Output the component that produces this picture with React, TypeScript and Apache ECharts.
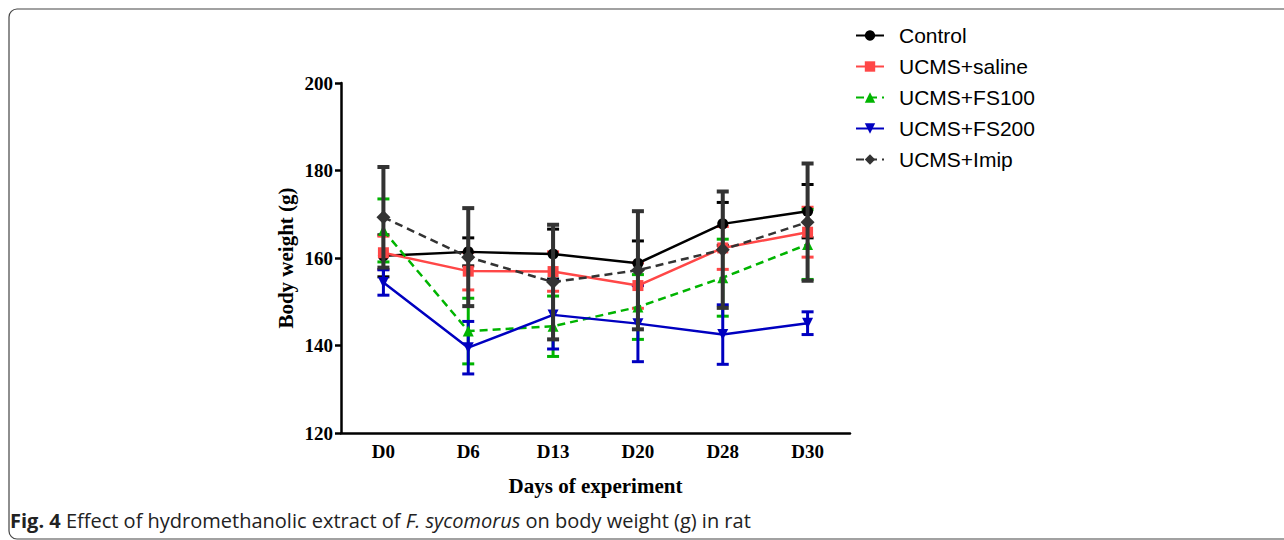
import React, { useEffect, useRef } from "react";
import * as echarts from "echarts";

const categories = ["D0", "D6", "D13", "D20", "D28", "D30"];
const seriesNames = ["Control", "UCMS+saline", "UCMS+FS100", "UCMS+FS200", "UCMS+Imip"];

const controlMean = [160.5, 161.4, 160.9, 158.8, 167.8, 170.7];
const controlSd = [4.8, 3.2, 5.7, 5.1, 4.9, 6.1];
const salineMean = [161.2, 157.0, 156.9, 153.7, 162.3, 165.9];
const salineSd = [3.8, 4.3, 4.5, 5.2, 4.9, 5.7];
const fs100Mean = [166.3, 143.3, 144.4, 148.8, 155.5, 163.1];
const fs100Sd = [7.2, 7.5, 6.9, 7.4, 8.8, 8.0];
const fs200Mean = [154.4, 139.5, 147.0, 145.0, 142.5, 145.1];
const fs200Sd = [2.9, 6.0, 7.8, 8.7, 6.8, 2.6];
const imipMean = [169.3, 160.2, 154.5, 157.2, 161.9, 168.2];
const imipSd = [11.5, 11.2, 13.1, 13.5, 13.3, 13.4];

const yTicks = { min: 120, max: 200, interval: 20 };

const colors = ["#000000", "#ff4747", "#00b400", "#0000c0", "#333333"];

export default function App() {
  const ref = useRef<HTMLDivElement>(null);
  useEffect(() => {
    if (!ref.current) return;
    const chart = echarts.init(ref.current, undefined, { renderer: "svg" });
    const means = [controlMean, salineMean, fs100Mean, fs200Mean, imipMean];
    const sds = [controlSd, salineSd, fs100Sd, fs200Sd, imipSd];
    const symbols = ["circle", "rect", "triangle", "triangle", "diamond"];
    const symbolSizes = [11, 11, 11, 11, 14];
    const rotates = [0, 0, 0, 180, 0];
    const dashed = [false, false, true, false, true];

    const lineSeries: any[] = seriesNames.map((name, i) => ({
      name,
      type: "line",
      data: means[i],
      symbol: symbols[i],
      symbolSize: symbolSizes[i],
      symbolRotate: rotates[i],
      z: i === 4 ? 6 : 3,
      itemStyle: { color: colors[i] },
      lineStyle: {
        color: colors[i],
        width: 2.5,
        type: dashed[i] ? [8, 5] : "solid",
      },
    }));

    const errSeries: any[] = seriesNames.map((name, i) => ({
      name: name + " SD",
      type: "custom",
      z: i === 4 ? 5 : 2,
      data: means[i].map((m, k) => [k, m - sds[i][k], m + sds[i][k]]),
      renderItem: (params: any, api: any) => {
        const lo = api.coord([api.value(0), api.value(1)]);
        const hi = api.coord([api.value(0), api.value(2)]);
        const hw = 6;
        const st = { stroke: colors[i], lineWidth: i === 4 ? 4 : 3 };
        return {
          type: "group",
          children: [
            { type: "line", shape: { x1: lo[0], y1: lo[1], x2: hi[0], y2: hi[1] }, style: st },
            { type: "line", shape: { x1: lo[0] - hw, y1: lo[1], x2: lo[0] + hw, y2: lo[1] }, style: st },
            { type: "line", shape: { x1: hi[0] - hw, y1: hi[1], x2: hi[0] + hw, y2: hi[1] }, style: st },
          ],
        };
      },
    }));

    chart.setOption({
      animation: false,
      grid: { left: 341, right: 434, top: 83, bottom: 107, containLabel: false },
      legend: {
        data: seriesNames,
        orient: "vertical",
        left: 850,
        top: 20,
        itemWidth: 28,
        itemHeight: 13,
        itemGap: 10,
        textStyle: { fontFamily: "Liberation Sans", fontSize: 21, color: "#000", lineHeight: 20, padding: [0, 0, 0, 10] },
      },
      xAxis: {
        type: "category",
        data: categories,
        boundaryGap: true,
        axisLine: { lineStyle: { color: "#000", width: 2.5 } },
        axisTick: { alignWithLabel: true, length: 6, lineStyle: { color: "#000", width: 2.5 } },
        axisLabel: {
          fontFamily: "Liberation Serif",
          fontWeight: "bold",
          fontSize: 19,
          color: "#000",
          margin: 9,
        },
        name: "Days of experiment",
        nameLocation: "middle",
        nameGap: 42,
        nameTextStyle: { fontFamily: "Liberation Serif", fontWeight: "bold", fontSize: 21, color: "#000" },
      },
      yAxis: {
        type: "value",
        min: yTicks.min,
        max: yTicks.max,
        interval: yTicks.interval,
        splitLine: { show: false },
        axisLine: { show: true, lineStyle: { color: "#000", width: 2.5 } },
        axisTick: { show: true, length: 6, lineStyle: { color: "#000", width: 2.5 } },
        axisLabel: {
          fontFamily: "Liberation Serif",
          fontWeight: "bold",
          fontSize: 19,
          color: "#000",
          margin: 8,
        },
        name: "Body weight (g)",
        nameLocation: "middle",
        nameGap: 45,
        nameTextStyle: { fontFamily: "Liberation Serif", fontWeight: "bold", fontSize: 21, color: "#000" },
      },
      graphic: [
        {
          type: "rect",
          shape: { x: 9, y: 9, width: 1300, height: 530, r: 8 },
          style: { fill: "none", stroke: "#444", lineWidth: 1.2 },
          silent: true,
        },
        {
          type: "text",
          left: 10,
          top: 510,
          style: {
            text: "{b|Fig. 4} Effect of hydromethanolic extract of {i|F. sycomorus} on body weight (g) in rat",
            fontFamily: "Open Sans",
            fontSize: 20,
            fill: "#222",
            rich: {
              b: { fontFamily: "Open Sans", fontSize: 20, fontWeight: "bold", fill: "#222" },
              i: { fontFamily: "Open Sans", fontSize: 20, fontStyle: "italic", fill: "#222" },
            },
          },
        },
      ],
      series: [...errSeries, ...lineSeries],
    });
    return () => chart.dispose();
  }, []);
  return (
    <div
      ref={ref}
      style={{ position: "fixed", left: 0, top: 0, width: 1284, height: 540, background: "#fff" }}
    />
  );
}
